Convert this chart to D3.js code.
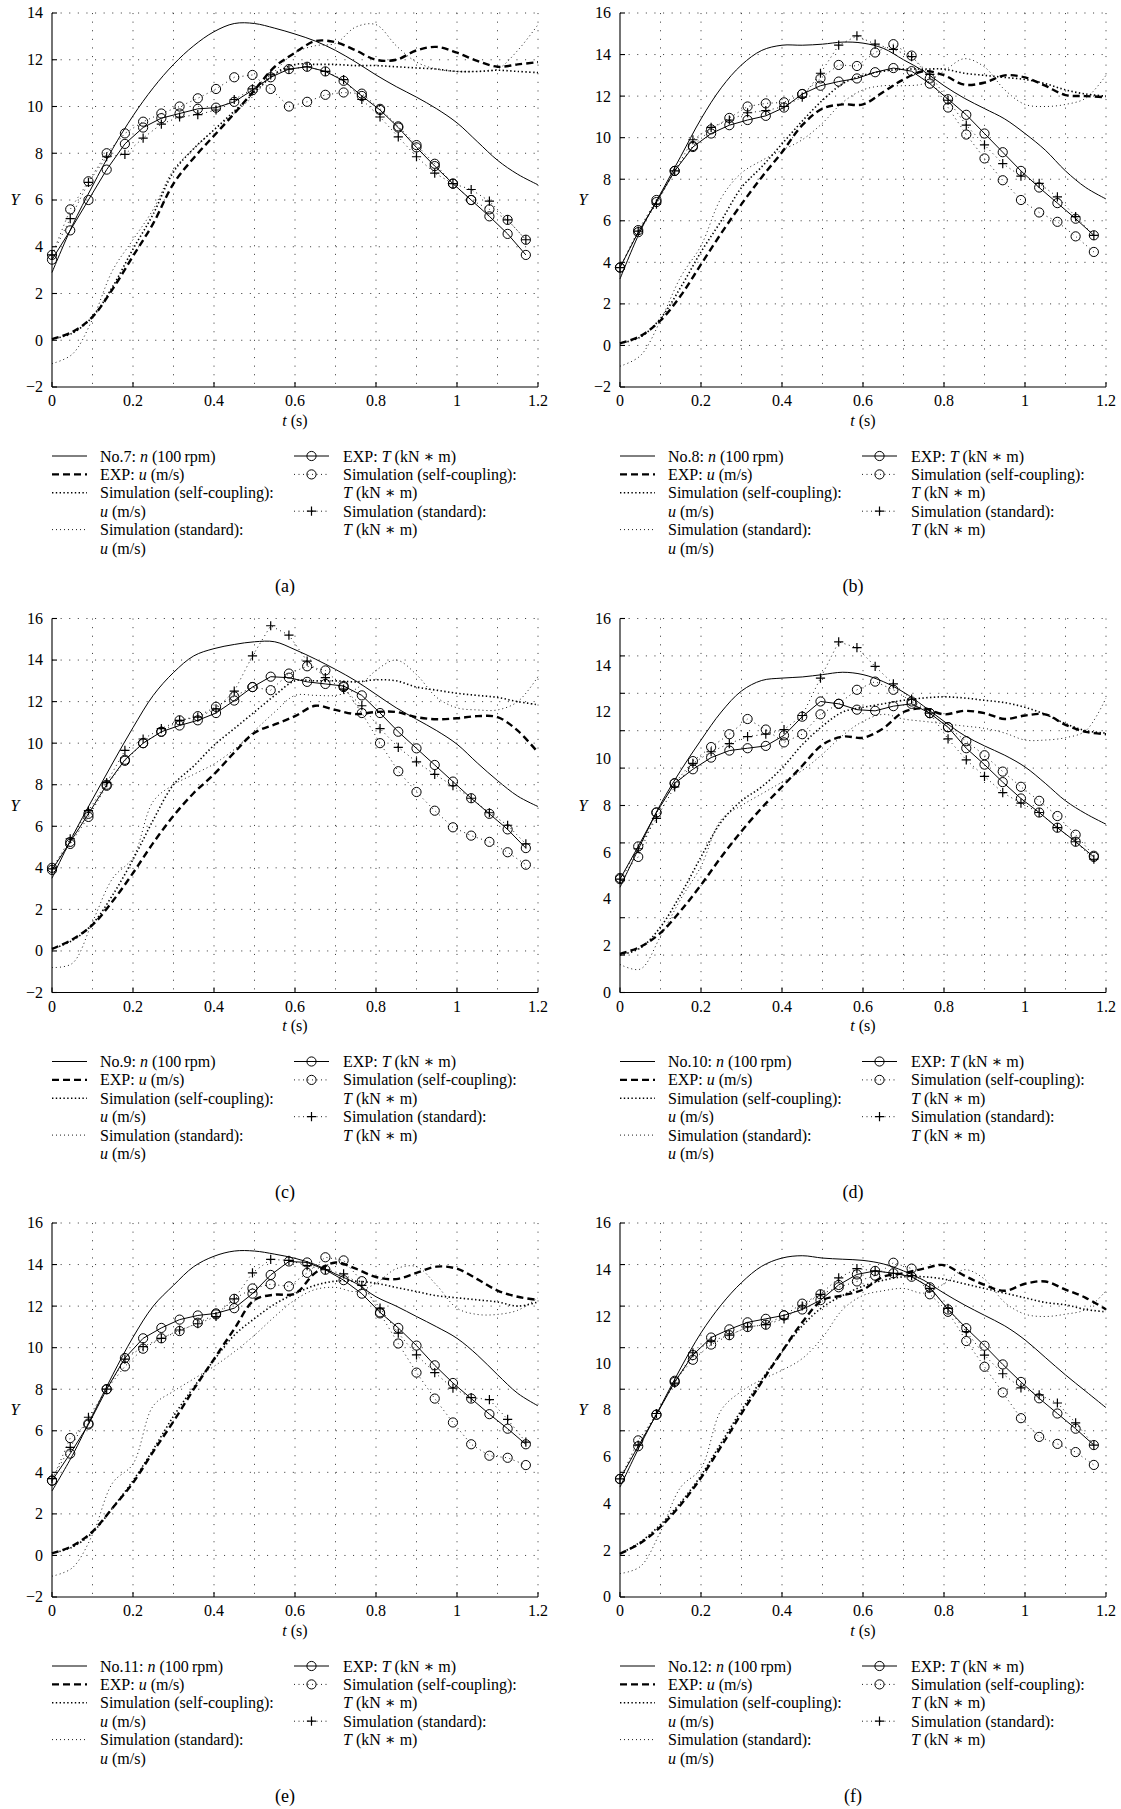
<!DOCTYPE html>
<html>
<head>
<meta charset="utf-8">
<title>Y vs t, No.7 - No.12</title>
<style>
  body {margin:0; background:#fff;}
  svg text {font-family:"Liberation Serif","DejaVu Serif",serif; fill:#000; font-size:16px;}
  svg .grid line {stroke:#444; stroke-width:1; stroke-dasharray:1.1,7.5;}
  svg .axis line {stroke:#000; stroke-width:1.1;}
  svg path.mark {fill:none; stroke:#000;}
</style>
</head>
<body>
<script src="https://cdn.jsdelivr.net/npm/d3@7/dist/d3.min.js"></script>
<script>
// sample times
var tCurve = [0,0.05,0.1,0.15,0.2,0.25,0.3,0.35,0.4,0.45,0.5,0.55,0.6,0.65,0.7,0.75,0.8,0.85,0.9,0.95,1,1.05,1.1,1.15,1.2];
var tMark = [0,0.045,0.09,0.135,0.18,0.225,0.27,0.315,0.36,0.405,0.45,0.495,0.54,0.585,0.63,0.675,0.72,0.765,0.81,0.855,0.9,0.945,0.99,1.035,1.08,1.125,1.17];
var xTicks = [0,0.2,0.4,0.6,0.8,1,1.2];
var xGrid = [0.1,0.2,0.3,0.4,0.5,0.6,0.7,0.8,0.9,1,1.1,1.2];

// (a) No.7
var nA     = [2.9,4.9,6.6,8.2,9.6,10.8,11.8,12.6,13.2,13.55,13.55,13.35,13.1,12.8,12.4,11.9,11.35,10.85,10.4,9.9,9.3,8.5,7.7,7.1,6.65];
var uExpA  = [0.05,0.35,1.0,2.2,3.6,5.0,6.7,7.8,8.75,9.7,10.7,11.7,12.3,12.8,12.75,12.4,12.0,12.0,12.4,12.55,12.3,11.95,11.7,11.8,11.9];
var uSelfA = [0.05,0.3,1.0,2.3,3.9,5.4,7.2,8.2,9.0,9.8,10.6,11.4,11.8,11.8,11.8,11.75,11.75,11.7,11.65,11.6,11.5,11.5,11.55,11.5,11.45];
var uStdA  = [-1.0,-0.6,0.9,3.0,4.3,5.6,7.3,8.2,9.0,9.7,10.5,11.5,12.3,12.6,12.7,13.4,13.5,12.6,11.9,11.6,11.5,11.5,11.6,12.4,13.5];
var tExpA  = [3.45,4.7,6.0,7.3,8.4,9.1,9.5,9.7,9.9,9.95,10.2,10.7,11.25,11.6,11.7,11.5,11.1,10.45,9.85,9.1,8.25,7.45,6.7,6.0,5.3,4.55,3.65];
var tSelfA = [3.65,5.6,6.8,8.0,8.85,9.35,9.7,10.0,10.35,10.75,11.25,11.35,10.75,10.0,10.2,10.5,10.6,10.55,9.9,9.15,8.35,7.55,6.7,6.0,5.6,5.15,4.3];
var tStdA  = [3.65,5.2,6.75,7.85,7.95,8.65,9.25,9.55,9.65,9.85,10.3,10.75,11.35,11.6,11.7,11.5,11.15,10.3,9.55,8.7,7.85,7.15,6.7,6.45,5.95,5.15,4.3];

// (b) No.8
var nB     = [3.2,5.5,7.3,9.1,10.9,12.4,13.5,14.2,14.45,14.45,14.5,14.6,14.55,14.3,13.75,13.2,12.5,11.9,11.4,10.9,10.2,9.4,8.4,7.6,7.05];
var uExpB  = [0.1,0.45,1.2,2.4,3.9,5.4,6.8,8.1,9.3,10.6,11.4,11.6,11.6,12.2,12.8,13.2,13.0,12.55,12.65,13.0,12.9,12.5,12.05,12.0,11.95];
var uSelfB = [0.1,0.4,1.3,2.8,4.5,6.0,7.6,8.6,9.7,10.8,11.8,12.6,13.0,13.2,13.3,13.3,13.3,13.1,13.0,12.9,12.8,12.6,12.3,12.1,12.0];
var uStdB  = [-1.0,-0.5,1.2,3.3,4.8,7.1,8.3,8.9,9.4,9.9,10.7,11.7,12.3,12.5,12.5,12.6,13.2,13.8,13.4,12.3,11.6,11.5,11.6,11.9,13.0];
var tExpB  = [3.75,5.45,6.9,8.4,9.55,10.2,10.6,10.85,11.05,11.45,12.1,12.5,12.7,12.85,13.15,13.35,13.2,12.6,11.85,11.1,10.2,9.3,8.4,7.6,6.85,6.1,5.3];
var tSelfB = [3.75,5.55,7.0,8.4,9.6,10.4,10.95,11.5,11.65,11.7,12.1,12.85,13.5,13.45,14.1,14.5,13.95,12.85,11.45,10.15,9.0,7.95,7.0,6.4,5.95,5.25,4.5];
var tStdB  = [3.75,5.5,6.8,8.4,9.9,10.5,10.85,11.2,11.3,11.5,11.95,13.1,14.45,14.9,14.5,14.25,13.9,13.05,11.8,10.6,9.65,8.75,8.15,7.8,7.15,6.2,5.3];

// (c) No.9
var nC     = [3.5,5.5,7.3,9.05,10.75,12.3,13.4,14.2,14.55,14.75,14.88,14.88,14.5,14.05,13.55,13.0,12.35,11.7,11.15,10.6,9.95,9.05,8.2,7.45,6.95];
var uExpC  = [0.1,0.55,1.25,2.4,3.75,5.2,6.5,7.6,8.5,9.55,10.5,10.9,11.3,11.8,11.6,11.4,11.5,11.5,11.25,11.15,11.2,11.3,11.25,10.6,9.55];
var uSelfC = [0.1,0.5,1.3,2.7,4.4,6.3,8.0,8.9,9.9,10.7,11.5,12.3,13.0,13.0,13.0,12.95,13.05,13.0,12.7,12.55,12.4,12.3,12.2,12.0,11.85];
var uStdC  = [-0.8,-0.6,1.4,3.5,4.5,7.2,8.0,8.5,9.0,9.7,10.6,11.5,12.3,12.3,12.3,12.6,13.5,14.0,13.3,12.2,11.7,11.6,11.6,12.0,13.2];
var tExpC  = [3.9,5.25,6.6,8.0,9.2,10.0,10.55,10.85,11.1,11.45,12.05,12.7,13.2,13.15,12.95,12.85,12.75,12.3,11.45,10.55,9.75,8.95,8.15,7.35,6.6,5.85,4.95];
var tSelfC = [4.0,5.15,6.45,7.95,9.15,10.0,10.55,11.1,11.3,11.75,12.25,12.7,12.55,13.35,13.7,13.5,12.7,11.45,10.0,8.65,7.65,6.75,5.95,5.55,5.25,4.75,4.15];
var tStdC  = [3.95,5.4,6.75,8.1,9.65,10.2,10.7,11.1,11.25,11.65,12.5,14.2,15.65,15.2,13.95,13.15,12.6,11.8,10.7,9.8,9.1,8.5,7.95,7.35,6.65,6.05,5.15];

// (d) No.10
var nD     = [4.5,6.3,8.05,9.5,10.8,12.0,12.9,13.35,13.45,13.5,13.6,13.7,13.6,13.3,12.85,12.25,11.6,11.0,10.55,10.15,9.65,8.95,8.2,7.65,7.2];
var uExpD  = [1.65,1.95,2.55,3.5,4.6,5.8,6.9,7.9,8.8,9.7,10.6,10.95,10.9,11.3,12.0,12.15,11.9,12.05,11.95,11.7,11.85,11.9,11.45,11.15,11.05];
var uSelfD = [1.6,1.9,2.8,4.2,5.8,7.3,8.2,8.8,9.6,10.6,11.4,12.0,12.2,12.35,12.5,12.6,12.65,12.6,12.5,12.4,12.2,11.9,11.5,11.2,11.1];
var uStdD  = [1.2,1.0,2.4,4.0,5.4,7.4,8.0,8.5,9.0,9.5,10.2,11.0,11.6,11.9,11.7,11.6,11.5,11.4,11.3,11.1,10.8,10.8,10.9,11.2,12.6];
var tExpD  = [4.85,6.25,7.7,8.95,9.55,10.05,10.35,10.45,10.55,11.0,11.8,12.45,12.35,12.1,12.05,12.25,12.35,11.95,11.35,10.45,9.75,9.0,8.3,7.7,7.05,6.45,5.8];
var tSelfD = [4.9,5.8,7.7,8.95,9.9,10.5,11.05,11.7,11.25,10.7,11.05,11.9,12.35,12.95,13.3,12.95,12.45,11.95,11.35,10.75,10.15,9.45,8.8,8.2,7.55,6.75,5.85];
var tStdD  = [4.85,6.15,7.45,8.8,9.8,10.3,10.65,10.95,11.05,11.25,11.85,13.45,15.0,14.75,13.95,13.2,12.55,11.95,10.85,9.95,9.25,8.55,8.1,7.7,7.05,6.45,5.7];

// (e) No.11
var nE     = [3.1,4.8,6.75,8.7,10.5,12.0,13.0,13.9,14.4,14.65,14.65,14.5,14.3,14.0,13.55,13.1,12.45,12.0,11.5,11.0,10.45,9.65,8.7,7.8,7.2];
var uExpE  = [0.1,0.45,1.15,2.3,3.5,5.0,6.45,8.0,9.45,10.9,12.3,12.55,12.6,13.6,14.1,13.8,13.4,13.3,13.6,13.9,13.8,13.3,12.75,12.45,12.3];
var uSelfE = [0.1,0.4,1.1,2.3,3.6,5.1,6.7,8.1,9.4,10.6,11.4,12.1,12.6,13.0,13.2,13.2,13.1,12.9,12.7,12.5,12.4,12.3,12.2,12.0,12.2];
var uStdE  = [-1.0,-0.6,1.0,3.5,4.4,7.2,7.9,8.5,9.1,9.8,10.6,11.5,12.3,12.8,12.9,12.7,13.1,13.8,13.9,13.0,11.9,11.6,11.6,11.8,12.4];
var tExpE  = [3.6,4.9,6.3,8.0,9.5,10.45,10.95,11.35,11.55,11.65,11.9,12.6,13.5,14.15,14.1,13.75,13.25,12.6,11.7,10.95,10.1,9.15,8.3,7.55,6.8,6.1,5.35];
var tSelfE = [3.6,5.65,6.35,8.0,9.1,9.95,10.45,10.8,11.2,11.6,12.35,12.85,13.05,12.95,13.6,14.35,14.2,13.2,11.65,10.2,8.8,7.55,6.4,5.35,4.8,4.7,4.35];
var tStdE  = [3.7,5.2,6.65,8.0,9.45,10.05,10.45,10.85,11.15,11.5,12.35,13.6,14.25,14.2,13.95,13.75,13.55,13.0,11.9,10.7,9.65,8.8,8.05,7.6,7.5,6.55,5.45];

// (f) No.12
var nF     = [4.7,6.5,8.15,9.8,11.3,12.5,13.45,14.15,14.5,14.6,14.5,14.45,14.4,14.25,13.95,13.55,13.0,12.5,12.05,11.6,11.0,10.25,9.5,8.8,8.1];
var uExpF  = [1.85,2.3,3.0,3.95,5.1,6.45,7.85,9.2,10.5,11.75,12.7,12.9,13.15,13.7,13.85,14.05,14.2,13.75,13.35,13.1,13.4,13.5,13.15,12.8,12.3];
var uSelfF = [1.85,2.35,3.1,4.05,5.2,6.6,8.0,9.3,10.5,11.6,12.4,12.9,13.3,13.55,13.7,13.7,13.6,13.4,13.2,13.0,12.8,12.6,12.5,12.3,12.2];
var uStdF  = [1.0,1.3,2.8,4.7,5.5,8.0,8.8,9.3,9.7,10.2,11.1,12.3,12.9,13.1,13.2,13.0,13.4,14.0,13.6,12.6,12.1,12.0,12.1,12.3,13.1];
var tExpF  = [5.05,6.45,7.8,9.2,10.35,11.1,11.45,11.75,11.9,12.05,12.3,12.7,13.35,13.8,13.95,13.85,13.7,13.25,12.3,11.5,10.75,9.95,9.2,8.5,7.85,7.2,6.5];
var tSelfF = [5.05,6.7,7.8,9.25,10.15,10.8,11.2,11.55,11.65,12.05,12.55,12.95,13.25,13.5,13.75,14.3,14.05,12.95,12.2,10.95,9.85,8.75,7.65,6.85,6.55,6.2,5.65];
var tStdF  = [5.05,6.5,7.85,9.15,10.45,10.95,11.2,11.55,11.65,11.9,12.45,12.95,13.65,14.05,13.95,13.85,13.75,13.2,12.35,11.35,10.35,9.55,8.95,8.65,8.3,7.45,6.5];

// y axes
var yLab14 = [-2,0,2,4,6,8,10,12,14];
var yLab16 = [-2,0,2,4,6,8,10,12,14,16];
var yLab0to16 = [0,2,4,6,8,10,12,14,16];
var yGridD = [0,1.6,3.2,4.8,6.4,8,9.6,11.2,12.8,14.4,16];
var yGridF = [0,1.778,3.556,5.333,7.111,8.889,10.667,12.444,14.222,16];

var panels = [
  {tag:'(a)', no:7,  n:nA, uExp:uExpA, uSelf:uSelfA, uStd:uStdA, tExp:tExpA, tSelf:tSelfA, tStd:tStdA, dom:[-2,14], grid:yLab14, lab:yLab14},
  {tag:'(b)', no:8,  n:nB, uExp:uExpB, uSelf:uSelfB, uStd:uStdB, tExp:tExpB, tSelf:tSelfB, tStd:tStdB, dom:[-2,16], grid:yLab16, lab:yLab16},
  {tag:'(c)', no:9,  n:nC, uExp:uExpC, uSelf:uSelfC, uStd:uStdC, tExp:tExpC, tSelf:tSelfC, tStd:tStdC, dom:[-2,16], grid:yLab16, lab:yLab16},
  {tag:'(d)', no:10, n:nD, uExp:uExpD, uSelf:uSelfD, uStd:uStdD, tExp:tExpD, tSelf:tSelfD, tStd:tStdD, dom:[0,16],  grid:yGridD, lab:yLab0to16},
  {tag:'(e)', no:11, n:nE, uExp:uExpE, uSelf:uSelfE, uStd:uStdE, tExp:tExpE, tSelf:tSelfE, tStd:tStdE, dom:[-2,16], grid:yLab16, lab:yLab16},
  {tag:'(f)', no:12, n:nF, uExp:uExpF, uSelf:uSelfF, uStd:uStdF, tExp:tExpF, tSelf:tSelfF, tStd:tStdF, dom:[0,16],  grid:yGridF, lab:yLab0to16}
];

var width = 1121, height = 1809,
    colX = [52, 620],
    rowY = [13, 618.5, 1223],
    pw = 486, ph = 374;

var styles = {
  n:     {w:1,   dash:null},
  uExp:  {w:2.4, dash:'7,4'},
  uSelf: {w:1.6, dash:'1.4,2.4'},
  uStd:  {w:0.9, dash:'1,3'},
  tLine: {w:1,   dash:null},
  tDot:  {w:0.9, dash:'1,3.5'}
};

var svg = d3.select('body')
  .append('svg')
  .attr('width', width)
  .attr('height', height);

function styled(sel, s){
  return sel.attr('fill', 'none')
    .attr('stroke', '#000')
    .attr('stroke-width', s.w)
    .attr('stroke-dasharray', s.dash);
}

function circleMark(g, cx, cy){
  g.append('circle').attr('cx', cx).attr('cy', cy).attr('r', 4.6)
    .attr('fill', 'none').attr('stroke', '#000').attr('stroke-width', 1);
}
function plusMark(g, cx, cy){
  g.append('path').attr('class', 'mark')
    .attr('d', 'M' + (cx - 4.6) + ',' + cy + 'H' + (cx + 4.6) + 'M' + cx + ',' + (cy - 4.6) + 'V' + (cy + 4.6))
    .attr('stroke-width', 1.2);
}

// text with italic pieces
function rich(g, x, y, parts, anchor){
  var t = g.append('text').attr('x', x).attr('y', y).attr('text-anchor', anchor || 'start');
  parts.forEach(function(p){
    t.append('tspan').text(p[0]).style('font-style', p[1] ? 'italic' : 'normal');
  });
  return t;
}

var tUnit = ' (kN \u2217 m)';

panels.forEach(function(p, i){
  var ox = colX[i % 2], oy = rowY[Math.floor(i / 2)];
  var x = d3.scaleLinear().domain([0, 1.2]).range([ox, ox + pw]);
  var y = d3.scaleLinear().domain(p.dom).range([oy + ph, oy]);
  var g = svg.append('g');

  // dotted grid
  var grid = g.append('g').attr('class', 'grid');
  grid.selectAll('line.v').data(xGrid).enter().append('line')
    .attr('x1', x).attr('x2', x).attr('y1', oy).attr('y2', oy + ph);
  grid.selectAll('line.h').data(p.grid.slice(1)).enter().append('line')
    .attr('x1', ox).attr('x2', ox + pw).attr('y1', y).attr('y2', y);

  // curves
  var curve = function(vals){
    return d3.line()
      .x(function(d, k){ return x(tCurve[k]); })
      .y(function(d){ return y(d); })
      .curve(d3.curveCatmullRom.alpha(0.5))(vals);
  };
  var poly = function(vals){
    return d3.line()
      .x(function(d, k){ return x(tMark[k]); })
      .y(function(d){ return y(d); })(vals);
  };
  styled(g.append('path').attr('d', curve(p.uStd)), styles.uStd);
  styled(g.append('path').attr('d', curve(p.uSelf)), styles.uSelf);
  styled(g.append('path').attr('d', curve(p.uExp)), styles.uExp);
  styled(g.append('path').attr('d', curve(p.n)), styles.n);
  styled(g.append('path').attr('d', poly(p.tStd)), styles.tDot);
  styled(g.append('path').attr('d', poly(p.tSelf)), styles.tDot);
  styled(g.append('path').attr('d', poly(p.tExp)), styles.tLine);

  p.tStd.forEach(function(d, k){ plusMark(g, x(tMark[k]), y(d)); });
  p.tSelf.forEach(function(d, k){ circleMark(g, x(tMark[k]), y(d)); });
  p.tExp.forEach(function(d, k){ circleMark(g, x(tMark[k]), y(d)); });

  // axes: left and bottom, ticks inside
  var ax = g.append('g').attr('class', 'axis');
  ax.append('line').attr('x1', ox).attr('x2', ox).attr('y1', oy).attr('y2', oy + ph);
  ax.append('line').attr('x1', ox).attr('x2', ox + pw).attr('y1', oy + ph).attr('y2', oy + ph);
  ax.selectAll('line.yt').data(p.grid).enter().append('line')
    .attr('x1', ox).attr('x2', ox + 5).attr('y1', y).attr('y2', y);
  ax.selectAll('line.xt').data(xTicks).enter().append('line')
    .attr('x1', x).attr('x2', x).attr('y1', oy + ph).attr('y2', oy + ph - 5);

  g.selectAll('text.yl').data(p.lab).enter().append('text')
    .attr('x', ox - 9).attr('y', y).attr('dy', '0.34em')
    .attr('text-anchor', 'end')
    .text(function(d){ return d < 0 ? '\u2212' + (-d) : d; });
  g.selectAll('text.xl').data(xTicks).enter().append('text')
    .attr('x', x).attr('y', oy + ph + 19)
    .attr('text-anchor', 'middle')
    .text(function(d){ return d; });

  rich(g, ox + pw / 2, oy + ph + 38.5, [['t', 1], [' (s)', 0]], 'middle');
  rich(g, ox - 37, oy + ph / 2 + 5, [['Y', 1]], 'middle');

  // legend
  var ly = oy + ph + 69, dy = 18.4;
  var lg = g.append('g');
  var left = [
    [['No.' + p.no + ': ', 0], ['n', 1], [' (100\u2009rpm)', 0]],
    [['EXP: ', 0], ['u', 1], [' (m/s)', 0]],
    [['Simulation (self-coupling):', 0]],
    [['u', 1], [' (m/s)', 0]],
    [['Simulation (standard):', 0]],
    [['u', 1], [' (m/s)', 0]]
  ];
  var right = [
    [['EXP: ', 0], ['T', 1], [tUnit, 0]],
    [['Simulation (self-coupling):', 0]],
    [['T', 1], [tUnit, 0]],
    [['Simulation (standard):', 0]],
    [['T', 1], [tUnit, 0]]
  ];
  left.forEach(function(r, k){ rich(lg, ox + 48, ly + k * dy + 5.5, r); });
  right.forEach(function(r, k){ rich(lg, ox + 291, ly + k * dy + 5.5, r); });

  var sample = function(x0, row, s){
    styled(lg.append('line').attr('x1', x0).attr('x2', x0 + 35)
      .attr('y1', ly + row * dy).attr('y2', ly + row * dy), s);
  };
  sample(ox, 0, styles.n);
  sample(ox, 1, styles.uExp);
  sample(ox, 2, styles.uSelf);
  sample(ox, 4, styles.uStd);
  sample(ox + 242, 0, styles.tLine);
  sample(ox + 242, 1, styles.tDot);
  sample(ox + 242, 3, styles.tDot);
  circleMark(lg, ox + 259.5, ly);
  circleMark(lg, ox + 259.5, ly + dy);
  plusMark(lg, ox + 259.5, ly + 3 * dy);

  g.append('text').attr('x', ox + 233).attr('y', oy + ph + 205)
    .attr('text-anchor', 'middle').style('font-size', '18px').text(p.tag);
});
</script>
</body>
</html>
